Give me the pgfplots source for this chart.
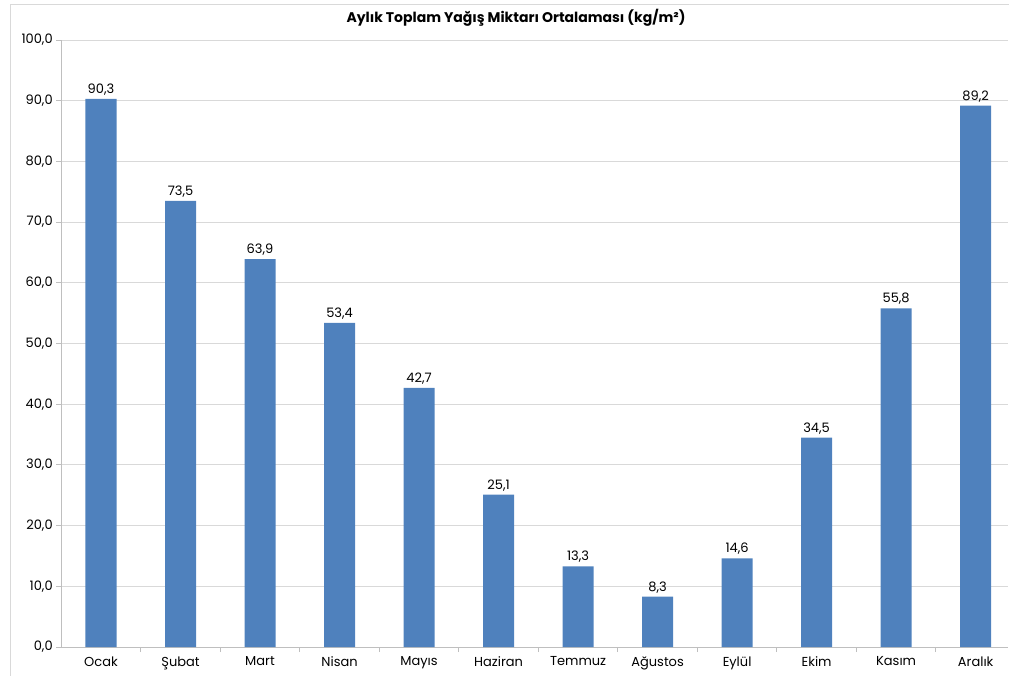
\documentclass[border=0pt]{standalone}
\usepackage{pgfplots}
\pgfplotsset{compat=1.18}
\usepackage{fontspec}
\setmainfont{Poppins}
\definecolor{barblue}{HTML}{4F81BD}
\definecolor{gridgray}{HTML}{D9D9D9}
\definecolor{axisgray}{HTML}{BFBFBF}
\begin{document}
\begin{tikzpicture}
\path[use as bounding box] (0,0) rectangle (1009bp,676bp);
\draw[gridgray, line width=1bp] (10bp,0) -- (10bp,671bp) -- (1009bp,671bp);
\node[font=\bfseries\fontsize{14bp}{16bp}\selectfont] at (516bp,658bp) {Aylık Toplam Yağış Miktarı Ortalaması (kg/m²)};
\begin{axis}[
  at={(101bp,29bp)}, anchor=origin,
  scale only axis, width=947bp, height=607bp,
  xmin=-0.5, xmax=11.41, ymin=0, ymax=100,
  ybar, bar width=31bp, bar shift=0pt,
  axis x line*=bottom, axis y line*=left,
  axis line style={axisgray, line width=0.8bp},
  ytick={0,10,...,100},
  yticklabel style={xshift=0bp, /pgf/number format/.cd, fixed, fixed zerofill, precision=1, use comma, assume math mode=true},
  ymajorgrids, grid style={gridgray, line width=0.8bp},
  xtick={0,...,11},
  xticklabels={Ocak,Şubat,Mart,Nisan,Mayıs,Haziran,Temmuz,Ağustos,Eylül,Ekim,Kasım,Aralık},
  major x tick style={draw=none},
  minor xtick={0.5,1.5,...,10.5},
  minor x tick style={axisgray, line width=0.8bp},
  minor tick length=5bp,
  major tick length=5bp,
  tick align=outside,
  ytick style={axisgray, line width=0.8bp},
  tick label style={font=\fontsize{13bp}{15bp}\selectfont, text=black},
  xticklabel style={yshift=-1bp},
  nodes near coords,
  nodes near coords style={font=\fontsize{13bp}{15bp}\selectfont, /pgf/number format/.cd, fixed, fixed zerofill, precision=1, use comma, assume math mode=true},
  clip=false,
]
\addplot[fill=barblue, draw=none] coordinates {
(0,90.3) (1,73.5) (2,63.9) (3,53.4) (4,42.7) (5,25.1) (6,13.3) (7,8.3) (8,14.6) (9,34.5) (10,55.8) (11,89.2)};
\end{axis}
\end{tikzpicture}
\end{document}
